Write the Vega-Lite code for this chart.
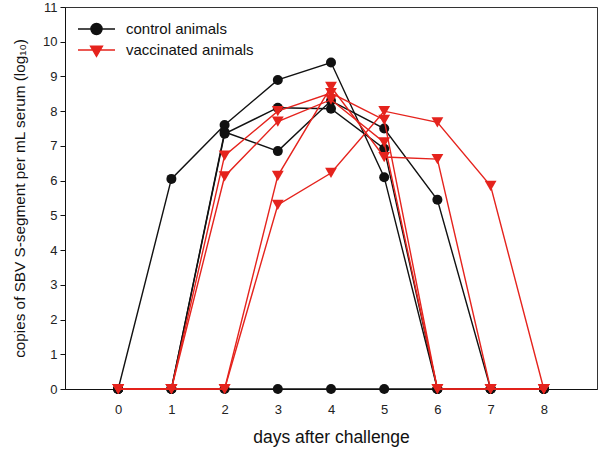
{
  "$schema": "https://vega.github.io/schema/vega-lite/v6.json",
  "width": 532,
  "height": 382,
  "autosize": "none",
  "padding": {"left": 65, "top": 7, "right": 3, "bottom": 61},
  "background": "white",
  "config": {
    "font": "Liberation Sans",
    "view": {"stroke": "#333333", "strokeWidth": 1},
    "axis": {"grid": false, "domainColor": "#111111", "tickColor": "#111111", "labelColor": "#222222", "titleColor": "#111111", "labelFont": "Liberation Sans", "titleFont": "Liberation Sans", "titleFontWeight": "normal"}
  },
  "data": {"values": [
    {"animal": "C1", "group": "control animals", "day": 0, "value": 0},
    {"animal": "C1", "group": "control animals", "day": 1, "value": 6.05},
    {"animal": "C1", "group": "control animals", "day": 2, "value": 7.6},
    {"animal": "C1", "group": "control animals", "day": 3, "value": 8.9},
    {"animal": "C1", "group": "control animals", "day": 4, "value": 9.4},
    {"animal": "C1", "group": "control animals", "day": 5, "value": 6.1},
    {"animal": "C1", "group": "control animals", "day": 6, "value": 0},
    {"animal": "C1", "group": "control animals", "day": 7, "value": 0},
    {"animal": "C1", "group": "control animals", "day": 8, "value": 0},
    {"animal": "C2", "group": "control animals", "day": 0, "value": 0},
    {"animal": "C2", "group": "control animals", "day": 1, "value": 0},
    {"animal": "C2", "group": "control animals", "day": 2, "value": 7.4},
    {"animal": "C2", "group": "control animals", "day": 3, "value": 6.85},
    {"animal": "C2", "group": "control animals", "day": 4, "value": 8.3},
    {"animal": "C2", "group": "control animals", "day": 5, "value": 7.5},
    {"animal": "C2", "group": "control animals", "day": 6, "value": 5.45},
    {"animal": "C2", "group": "control animals", "day": 7, "value": 0},
    {"animal": "C2", "group": "control animals", "day": 8, "value": 0},
    {"animal": "C3", "group": "control animals", "day": 0, "value": 0},
    {"animal": "C3", "group": "control animals", "day": 1, "value": 0},
    {"animal": "C3", "group": "control animals", "day": 2, "value": 7.35},
    {"animal": "C3", "group": "control animals", "day": 3, "value": 8.1},
    {"animal": "C3", "group": "control animals", "day": 4, "value": 8.07},
    {"animal": "C3", "group": "control animals", "day": 5, "value": 6.92},
    {"animal": "C3", "group": "control animals", "day": 6, "value": 0},
    {"animal": "C3", "group": "control animals", "day": 7, "value": 0},
    {"animal": "C3", "group": "control animals", "day": 8, "value": 0},
    {"animal": "C4", "group": "control animals", "day": 0, "value": 0},
    {"animal": "C4", "group": "control animals", "day": 1, "value": 0},
    {"animal": "C4", "group": "control animals", "day": 2, "value": 0},
    {"animal": "C4", "group": "control animals", "day": 3, "value": 0},
    {"animal": "C4", "group": "control animals", "day": 4, "value": 0},
    {"animal": "C4", "group": "control animals", "day": 5, "value": 0},
    {"animal": "C4", "group": "control animals", "day": 6, "value": 0},
    {"animal": "C4", "group": "control animals", "day": 7, "value": 0},
    {"animal": "C4", "group": "control animals", "day": 8, "value": 0},
    {"animal": "V1", "group": "vaccinated animals", "day": 0, "value": 0},
    {"animal": "V1", "group": "vaccinated animals", "day": 1, "value": 0},
    {"animal": "V1", "group": "vaccinated animals", "day": 2, "value": 6.72},
    {"animal": "V1", "group": "vaccinated animals", "day": 3, "value": 8.0},
    {"animal": "V1", "group": "vaccinated animals", "day": 4, "value": 8.52},
    {"animal": "V1", "group": "vaccinated animals", "day": 5, "value": 7.75},
    {"animal": "V1", "group": "vaccinated animals", "day": 6, "value": 0},
    {"animal": "V1", "group": "vaccinated animals", "day": 7, "value": 0},
    {"animal": "V1", "group": "vaccinated animals", "day": 8, "value": 0},
    {"animal": "V2", "group": "vaccinated animals", "day": 0, "value": 0},
    {"animal": "V2", "group": "vaccinated animals", "day": 1, "value": 0},
    {"animal": "V2", "group": "vaccinated animals", "day": 2, "value": 6.12},
    {"animal": "V2", "group": "vaccinated animals", "day": 3, "value": 7.7},
    {"animal": "V2", "group": "vaccinated animals", "day": 4, "value": 8.33},
    {"animal": "V2", "group": "vaccinated animals", "day": 5, "value": 7.1},
    {"animal": "V2", "group": "vaccinated animals", "day": 6, "value": 0},
    {"animal": "V2", "group": "vaccinated animals", "day": 7, "value": 0},
    {"animal": "V2", "group": "vaccinated animals", "day": 8, "value": 0},
    {"animal": "V3", "group": "vaccinated animals", "day": 0, "value": 0},
    {"animal": "V3", "group": "vaccinated animals", "day": 1, "value": 0},
    {"animal": "V3", "group": "vaccinated animals", "day": 2, "value": 0},
    {"animal": "V3", "group": "vaccinated animals", "day": 3, "value": 6.14},
    {"animal": "V3", "group": "vaccinated animals", "day": 4, "value": 8.7},
    {"animal": "V3", "group": "vaccinated animals", "day": 5, "value": 6.68},
    {"animal": "V3", "group": "vaccinated animals", "day": 6, "value": 6.62},
    {"animal": "V3", "group": "vaccinated animals", "day": 7, "value": 0},
    {"animal": "V3", "group": "vaccinated animals", "day": 8, "value": 0},
    {"animal": "V4", "group": "vaccinated animals", "day": 0, "value": 0},
    {"animal": "V4", "group": "vaccinated animals", "day": 1, "value": 0},
    {"animal": "V4", "group": "vaccinated animals", "day": 2, "value": 0},
    {"animal": "V4", "group": "vaccinated animals", "day": 3, "value": 5.3},
    {"animal": "V4", "group": "vaccinated animals", "day": 4, "value": 6.22},
    {"animal": "V4", "group": "vaccinated animals", "day": 5, "value": 8.0},
    {"animal": "V4", "group": "vaccinated animals", "day": 6, "value": 7.68},
    {"animal": "V4", "group": "vaccinated animals", "day": 7, "value": 5.85},
    {"animal": "V4", "group": "vaccinated animals", "day": 8, "value": 0}
  ]},
  "encoding": {
    "x": {"field": "day", "type": "quantitative", "scale": {"domain": [-1, 9], "nice": false},
      "axis": {"values": [0,1,2,3,4,5,6,7,8], "title": "days after challenge", "titleFontSize": 17.5, "titlePadding": 12, "labelFontSize": 13, "tickSize": 4, "labelPadding": 10, "labelFlush": false}},
    "y": {"field": "value", "type": "quantitative", "scale": {"domain": [0, 11], "nice": false, "zero": true},
      "axis": {"values": [0,1,2,3,4,5,6,7,8,9,10,11], "title": "copies of SBV S-segment per mL serum (log₁₀)", "titleFontSize": 15.3, "titlePadding": 15, "labelFontSize": 13, "tickSize": 5, "labelPadding": 3, "labelFlush": false}},
    "color": {"field": "group", "type": "nominal",
      "scale": {"domain": ["control animals", "vaccinated animals"], "range": ["#111111", "#e5231d"]},
      "legend": {"title": null, "orient": "none", "legendX": 12, "legendY": 12, "padding": 0, "clipHeight": 20, "rowPadding": 1,
        "symbolSize": 1369, "symbolStrokeWidth": 1.4, "labelFontSize": 15, "labelColor": "#111111", "labelOffset": 10, "labelFont": "Liberation Sans",
        "encode": {"symbols": {"update": {
          "shape": {"signal": "datum.value === 'control animals' ? 'M-1,0H1M0.3,0A0.3,0.3 0 1,1 -0.3,0A0.3,0.3 0 1,1 0.3,0Z' : 'M-1,0H1M-0.32,-0.2L0.32,-0.2L0,0.34Z'"},
          "size": {"value": 1369},
          "fill": {"scale": "color", "field": "value"},
          "stroke": {"scale": "color", "field": "value"},
          "strokeWidth": {"value": 1.4},
          "opacity": {"value": 1}
        }}}}}
  },
  "layer": [
    {"transform": [{"filter": "datum.group === 'control animals'"}],
     "mark": {"type": "line", "strokeWidth": 1.4}, "encoding": {"detail": {"field": "animal"}}},
    {"transform": [{"filter": "datum.group === 'control animals'"}],
     "mark": {"type": "point", "shape": "circle", "filled": true, "size": 100, "opacity": 1}},
    {"transform": [{"filter": "datum.group === 'vaccinated animals'"}],
     "mark": {"type": "line", "strokeWidth": 1.4}, "encoding": {"detail": {"field": "animal"}}},
    {"transform": [{"filter": "datum.group === 'vaccinated animals'"}],
     "mark": {"type": "point", "shape": "triangle-down", "filled": true, "size": 140, "opacity": 1}}
  ]
}
